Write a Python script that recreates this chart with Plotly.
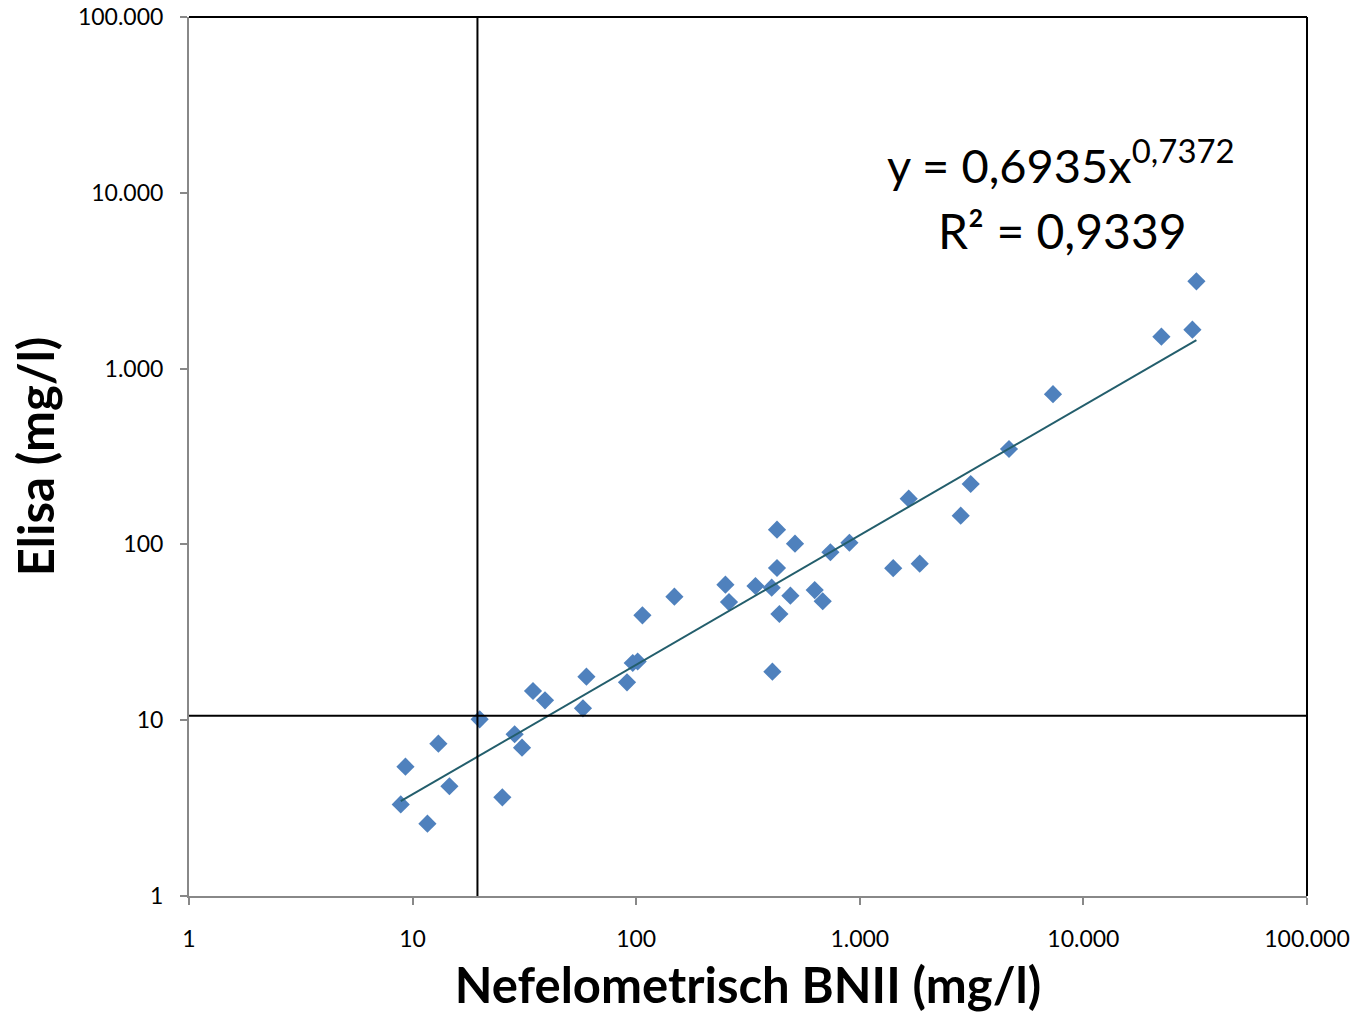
import plotly.graph_objects as go
import numpy as np

# Data (Nefelometrisch BNII vs Elisa, mg/l)
nefelo = [8.85, 11.65, 9.29, 13.04, 14.61, 19.95, 25.2, 28.6, 30.86, 34.55,
          39.1, 57.8, 59.9, 90.97, 96.5, 101.5, 106.6, 148.2, 250.6, 260,
          341.5, 403.6, 426.3, 426.3, 406.5, 436.9, 489.3, 513.1, 628.5, 682.6,
          738.8, 898.5, 1410.7, 1853.5, 1654.6, 2827, 3133, 4648, 7311, 22325,
          30725, 32020]
elisa = [3.32, 2.58, 5.44, 7.35, 4.21, 10.12, 3.64, 8.32, 6.98, 14.66,
         12.98, 11.69, 17.68, 16.43, 21.15, 21.57, 39.5, 50.4, 59.0, 47.0,
         58.0, 56.7, 121.2, 73.4, 18.87, 40.2, 51.1, 100.9, 55.0, 47.5,
         90.2, 102.2, 73.2, 77.7, 182, 145.7, 220.6, 348.9, 715, 1519,
         1665, 3138]

# Power trend line coefficients (as shown on the chart)
fit_a = 0.6935
fit_b = 0.7372
fit_r2 = 0.9339

# Cut-off reference lines
cutoff_x = 19.5
cutoff_y = 10.6

tick_vals = [1, 10, 100, 1000, 10000, 100000]
tick_text = ["1", "10", "100", "1.000", "10.000", "100.000"]

FONT = "Lato, Carlito, Calibri, sans-serif"

fig = go.Figure()

x_fit = np.array([min(nefelo), max(nefelo)])
y_fit = fit_a * x_fit ** fit_b

fig.add_trace(go.Scatter(
    x=nefelo, y=elisa, mode="markers",
    marker=dict(symbol="diamond", size=14, color="#4F81BD", line=dict(width=0)),
    showlegend=False,
))
fig.add_trace(go.Scatter(
    x=x_fit, y=y_fit, mode="lines",
    line=dict(color="#235E6C", width=2),
    showlegend=False,
))

# cut-off lines
fig.add_shape(type="line", xref="x", yref="paper", x0=cutoff_x, x1=cutoff_x, y0=0, y1=1,
              line=dict(color="black", width=2))
fig.add_shape(type="line", xref="paper", yref="y", x0=0, x1=1, y0=cutoff_y, y1=cutoff_y,
              line=dict(color="black", width=2))
# top and right border
fig.add_shape(type="line", xref="paper", yref="paper", x0=0, x1=1, y0=1, y1=1,
              line=dict(color="black", width=2))
fig.add_shape(type="line", xref="paper", yref="paper", x0=1, x1=1, y0=0, y1=1,
              line=dict(color="black", width=2))

fig.add_annotation(
    xref="paper", yref="paper", x=0.78, y=0.835, xanchor="center", yanchor="middle",
    text=f"y = {str(fit_a).replace('.', ',')}x<sup>{str(fit_b).replace('.', ',')}</sup>",
    showarrow=False, font=dict(family=FONT, size=47, color="black"),
)
fig.add_annotation(
    xref="paper", yref="paper", x=0.7815, y=0.757, xanchor="center", yanchor="middle",
    text=f"R² = {str(fit_r2).replace('.', ',')}",
    showarrow=False, font=dict(family=FONT, size=48, color="black"),
)

axis_common = dict(
    type="log", range=[0, 5], tickvals=tick_vals, ticktext=tick_text,
    showgrid=False, zeroline=False, showline=True, linecolor="#888888", linewidth=2,
    ticks="outside", ticklen=7, tickcolor="#888888", tickwidth=2,
    tickfont=dict(family=FONT, size=23, color="black"), automargin=False,
)

fig.update_layout(
    width=1356, height=1016,
    margin=dict(l=189, r=49, t=17, b=120),
    plot_bgcolor="white", paper_bgcolor="white",
    xaxis=dict(**axis_common, ticklabelstandoff=14,
               title=dict(text="<b>Nefelometrisch BNII (mg/l)</b>",
                          font=dict(family=FONT, size=49, color="black"), standoff=18)),
    yaxis=dict(**axis_common, ticklabelstandoff=12,
               title=dict(text="<b>Elisa (mg/l)</b>",
                          font=dict(family=FONT, size=49, color="black"), standoff=8)),
)

fig.write_html("out.html")
